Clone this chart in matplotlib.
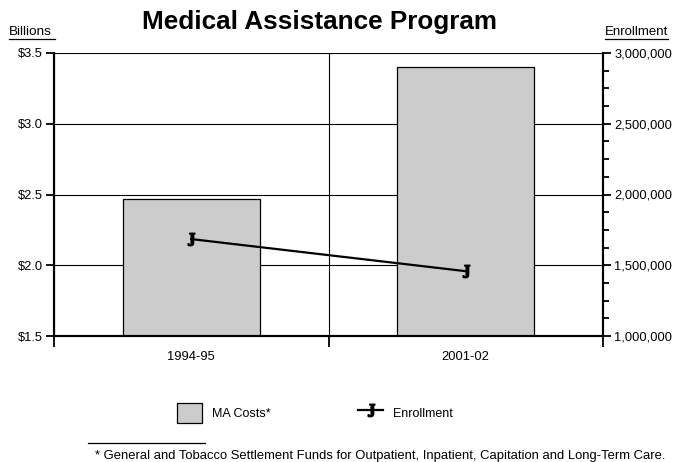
import matplotlib
matplotlib.use("Agg")
import matplotlib.pyplot as plt
from matplotlib.lines import Line2D
from matplotlib.ticker import FixedLocator, MultipleLocator, FuncFormatter

plt.rcParams['font.family'] = ['Liberation Sans', 'DejaVu Sans']
plt.rcParams['mathtext.fontset'] = 'dejavuserif'

# data
years = ['1994-95', '2001-02']
costs = [2.47, 3.40]              # billions of dollars
enrollment = [1685000, 1458000]   # persons
cost_ticks = [1.5, 2.0, 2.5, 3.0, 3.5]
enroll_ticks = [1000000, 1500000, 2000000, 2500000, 3000000]

W, H = 673, 462
fig = plt.figure(figsize=(W / 100, H / 100), dpi=100)
ax = fig.add_axes([54 / W, 1 - 336 / H, 549 / W, 283 / H])
ax2 = ax.twinx()

x = list(range(len(years)))
ax.bar(x, costs, width=0.5, color='#cccccc', edgecolor='black', linewidth=0.9,
       label='MA Costs*', zorder=2)
ax2.plot(x, enrollment, color='black', linewidth=1.6, marker=r'$\mathbf{J}$',
         markersize=9, label='Enrollment')

ax.set_xlim(-0.5, len(years) - 0.5)
ax.set_ylim(cost_ticks[0], cost_ticks[-1])
ax2.set_ylim(enroll_ticks[0], enroll_ticks[-1])

ax.set_yticks(cost_ticks)
ax.set_yticklabels(['$%.1f' % v for v in cost_ticks])
ax.set_xticks(x)
ax.set_xticklabels(years)
ax.xaxis.set_minor_locator(FixedLocator([i - 0.5 for i in range(len(years) + 1)]))
ax.tick_params(axis='x', which='major', length=0, pad=11, labelsize=9.3)
ax.tick_params(axis='x', which='minor', length=8, width=1.3, direction='out')
ax.tick_params(axis='y', length=6, width=1.3, direction='out', labelsize=9.3, pad=2)

ax.set_axisbelow(True)
ax.grid(axis='y', which='major', color='black', linewidth=0.8)
ax.grid(axis='x', which='minor', color='black', linewidth=0.8)

ax2.set_yticks(enroll_ticks)
ax2.yaxis.set_major_formatter(FuncFormatter(lambda v, p: '{:,.0f}'.format(v)))
ax2.yaxis.set_minor_locator(MultipleLocator(125000))
ax2.tick_params(axis='y', which='major', length=6, width=1.3, direction='out',
                labelsize=9.3, pad=2)
ax2.tick_params(axis='y', which='minor', length=4, width=1.3, direction='out')

for a in (ax, ax2):
    a.spines['top'].set_visible(False)
    for s in ('left', 'right', 'bottom'):
        a.spines[s].set_linewidth(1.5)

fig.text(320 / W, 1 - 22 / H, 'Medical Assistance Program', ha='center', va='center',
         fontsize=18.8, fontweight='bold')
fig.text(9 / W, 1 - 32 / H, 'Billions', ha='left', va='center', fontsize=9.7)
fig.text(668 / W, 1 - 32 / H, 'Enrollment', ha='right', va='center', fontsize=9.5)
fig.add_artist(Line2D([9 / W, 55 / W], [1 - 38.5 / H, 1 - 38.5 / H], color='black', linewidth=0.9))
fig.add_artist(Line2D([605 / W, 668 / W], [1 - 38.5 / H, 1 - 38.5 / H], color='black', linewidth=0.9))

h1, l1 = ax.get_legend_handles_labels()
h2, l2 = ax2.get_legend_handles_labels()
fig.legend(h1 + h2, l1 + l2, loc='center', bbox_to_anchor=(315 / W, 1 - 413 / H), ncol=2,
           frameon=False, fontsize=9, handlelength=2.0, handleheight=2.2,
           handletextpad=0.8, columnspacing=7.0)

fig.add_artist(Line2D([88 / W, 205 / W], [1 - 443 / H, 1 - 443 / H], color='black', linewidth=0.9))
fig.text(380 / W, 1 - 456 / H,
         '* General and Tobacco Settlement Funds for Outpatient, Inpatient, Capitation and Long-Term Care.',
         ha='center', va='center', fontsize=9.4)

fig.savefig('out.png', dpi=100)
